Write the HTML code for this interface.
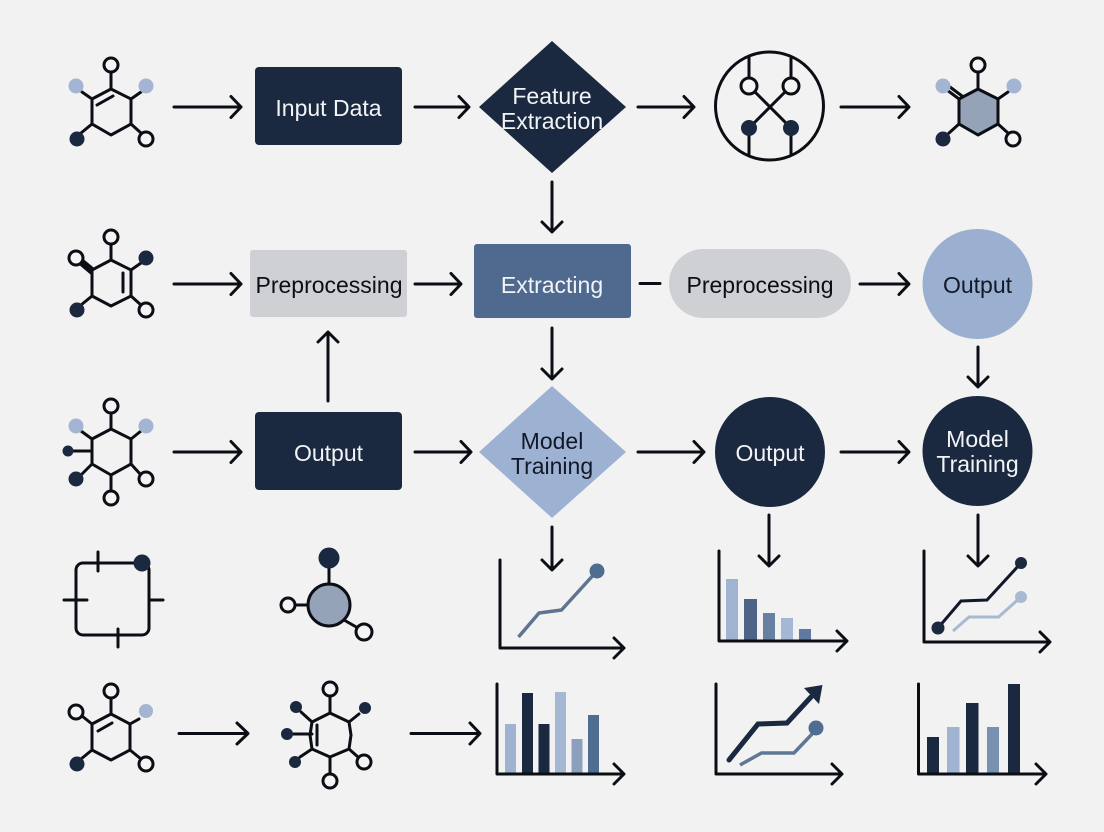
<!DOCTYPE html>
<html><head><meta charset="utf-8"><style>
html,body{margin:0;padding:0;background:#f2f2f3}
svg{display:block}
text{font-family:"Liberation Sans",sans-serif;font-size:23px;text-anchor:middle;dominant-baseline:central}
.l{fill:none;stroke:#0b0e14;stroke-width:3;stroke-linecap:round;stroke-linejoin:round}
.o{fill:#f4f4f5;stroke:#0b0e14;stroke-width:3}
.n{fill:#1a2840}.b{fill:#a3b5d3}
</style></head><body>
<svg width="1104" height="832" viewBox="0 0 1104 832" xmlns="http://www.w3.org/2000/svg">
<rect width="1104" height="832" fill="#f2f2f3"/>

<!-- Row 1 -->
<path class="l" d="M111 72V89M92 99L82 92M131 99L141 92M92 124L81 133M131 124L141 133M92 99L111 89L131 99V124L111 135L92 124ZM97 105L113 96"/>
<circle class="o" cx="111" cy="65" r="7"/><circle class="b" cx="76" cy="86" r="7.5"/><circle class="b" cx="146" cy="86" r="7.5"/><circle class="n" cx="77" cy="139" r="7.5"/><circle class="o" cx="146" cy="139" r="7"/>
<path class="l" d="M174 107H241M231 96.500L241 107L231 117.500"/>
<rect x="255" y="67" width="147" height="78" rx="4" fill="#1a2840"/>
<text x="328.500" y="108" fill="#f3f4f6">Input Data</text>
<path class="l" d="M415 107H468M459 96.500L469 107L459 117.500"/>
<polygon points="552,41 626,107 552,173 479,107" fill="#1a2840"/>
<text x="552" y="96" fill="#f3f4f6">Feature</text><text x="552" y="121" fill="#f3f4f6">Extraction</text>
<path class="l" d="M638 107H693M684 96.500L694 107L684 117.500"/>
<circle class="l" cx="769.500" cy="106" r="54"/>
<path class="l" d="M749 57V78M791 57V78M755 92L791 128M785 92L749 128M749 128V154M791 128V154"/>
<circle class="o" cx="749" cy="86" r="8"/><circle class="o" cx="791" cy="86" r="8"/><circle class="n" cx="749" cy="128" r="8"/><circle class="n" cx="791" cy="128" r="8"/>
<path class="l" d="M841 107H908M899 96.500L909 107L899 117.500"/>
<path class="l" d="M978 72V89M998 99L1008 92M959 124L949 133M998 124L1008 133M947 90L959 99M950 87L962 96"/>
<polygon points="978,89 998,99 998,124 978,135 959,124 959,99" fill="#94a3b8" stroke="#0b0e14" stroke-width="3" stroke-linejoin="round"/>
<circle class="o" cx="978" cy="65" r="7"/><circle class="b" cx="943" cy="86" r="7.5"/><circle class="b" cx="1014" cy="86" r="7.5"/><circle class="n" cx="943" cy="139" r="7.5"/><circle class="o" cx="1013" cy="139" r="7"/>
<path class="l" d="M552 182V231M542 222L552 232L562 222"/>

<!-- Row 2 -->
<path class="l" d="M111 244V260M92 270L82 263M131 270L141 263M92 296L81 305M131 296L141 305M92 270L111 260L131 270V296L111 306L92 296ZM123 273V292"/>
<path class="l" d="M78 262L91 273M81 259L92 268"/>
<circle class="o" cx="111" cy="237" r="7"/><circle class="o" cx="76" cy="258" r="7"/><circle class="n" cx="146" cy="258" r="7.5"/><circle class="n" cx="77" cy="310" r="7.5"/><circle class="o" cx="146" cy="310" r="7"/>
<path class="l" d="M174 284H241M231 273.500L241 284L231 294.500"/>
<rect x="250" y="250" width="157" height="67" rx="3" fill="#cfd0d4"/>
<text x="329" y="285" fill="#0b0e14">Preprocessing</text>
<path class="l" d="M415 284H460M451 273.500L461 284L451 294.500"/>
<rect x="474" y="244" width="157" height="74" rx="3" fill="#4f6a8e"/>
<text x="552" y="285" fill="#f3f4f6">Extracting</text>
<path class="l" d="M640 283.500H660"/>
<rect x="669" y="249" width="182" height="69" rx="34.500" fill="#cfd0d4"/>
<text x="760" y="285" fill="#0b0e14">Preprocessing</text>
<path class="l" d="M860 284H908M899 273.500L909 284L899 294.500"/>
<circle cx="977.500" cy="284" r="55" fill="#9bb0d0"/>
<text x="977.500" y="285" fill="#111827">Output</text>
<path class="l" d="M552 328V378M542 369L552 379L562 369"/>
<path class="l" d="M978 347V386M968 377L978 387L988 377"/>
<path class="l" d="M328 401V333M318 342L328 332L338 342"/>

<!-- Row 3 -->
<path class="l" d="M111 413V429M81 431L92 439M141 431L131 439M73 451H92M81 475L92 464M141 475L131 464M111 475V491M92 439L111 429L131 439V464L111 475L92 464Z"/>
<circle class="o" cx="111" cy="406" r="7"/><circle class="o" cx="111" cy="498" r="7"/><circle class="b" cx="76" cy="426" r="7.5"/><circle class="b" cx="146" cy="426" r="7.5"/><circle class="n" cx="68" cy="451" r="5.500"/><circle class="n" cx="76" cy="479" r="7.5"/><circle class="o" cx="146" cy="479" r="7"/>
<path class="l" d="M174 452H241M231 441.500L241 452L231 462.500"/>
<rect x="255" y="412" width="147" height="78" rx="4" fill="#1a2840"/>
<text x="328.500" y="453" fill="#f3f4f6">Output</text>
<path class="l" d="M415 452H470M461 441.500L471 452L461 462.500"/>
<polygon points="552,386 626,452 552,518 479,452" fill="#9db2d2"/>
<text x="552" y="441" fill="#111827">Model</text><text x="552" y="466" fill="#111827">Training</text>
<path class="l" d="M638 452H703M694 441.500L704 452L694 462.500"/>
<circle cx="770" cy="452" r="55" fill="#1a2840"/>
<text x="770" y="453" fill="#f3f4f6">Output</text>
<path class="l" d="M841 452H908M899 441.500L909 452L899 462.500"/>
<circle cx="977.500" cy="451" r="55" fill="#1a2840"/>
<text x="977.500" y="439" fill="#f3f4f6">Model</text><text x="977.500" y="464" fill="#f3f4f6">Training</text>

<!-- Row 4 -->
<rect class="l" x="76" y="563" width="73" height="72" rx="7"/>
<path class="l" d="M98 552V571M64 600H87M150 600H163M118 629V647"/>
<circle class="n" cx="142" cy="563" r="8.500"/>
<path class="l" d="M329 568V584M295 605H308M344 620L358 628"/>
<circle cx="329" cy="605" r="21" fill="#94a3b8" stroke="#0b0e14" stroke-width="3"/>
<circle class="n" cx="329" cy="558" r="10.500"/><circle class="o" cx="288" cy="605" r="7"/><circle class="o" cx="364" cy="632" r="8"/>
<path class="l" d="M552 527V569M542 560L552 570L562 560"/>
<path class="l" d="M769 515V565M759 556L769 566L779 556"/>
<path class="l" d="M978 515V565M968 556L978 566L988 556"/>

<path class="l" d="M500 560V648H623M614 638L624 648L614 658"/>
<polyline points="518.500,637 539,613 561.500,610 597,571" fill="none" stroke="#5f7490" stroke-width="3.500" stroke-linejoin="round"/>
<circle cx="597" cy="571" r="7.500" fill="#4f6c91"/>

<rect x="726" y="579" width="12" height="62" fill="#a0b3d0"/>
<rect x="744" y="599" width="13" height="42" fill="#4d6485"/>
<rect x="763" y="613" width="12" height="28" fill="#66809f"/>
<rect x="781" y="618" width="12" height="23" fill="#a4b8d4"/>
<rect x="799" y="629" width="12" height="12" fill="#5f7a9e"/>
<path class="l" d="M719 551V641H846M837 631L847 641L837 651"/>

<path class="l" d="M924 551V642H1049M1040 632L1050 642L1040 652"/>
<polyline points="953,631 969,617 998.500,617 1021,597" fill="none" stroke="#a9b9d2" stroke-width="3"/>
<circle cx="1021" cy="597" r="6" fill="#a9b9d2"/>
<polyline points="938,628 961,601 987,600 1021,563" fill="none" stroke="#10182a" stroke-width="3"/>
<circle class="n" cx="938" cy="628" r="6.500"/><circle class="n" cx="1021" cy="563" r="6"/>

<!-- Row 5 -->
<path class="l" d="M111 698V714M82 716L92 724M139 719L130 724M92 750L81 759M130 750L141 759M92 724L111 714L130 724V750L111 760L92 750ZM98 731L112 723"/>
<circle class="o" cx="111" cy="691" r="7"/><circle class="o" cx="76" cy="712" r="7"/><circle class="b" cx="146" cy="711" r="7"/><circle class="n" cx="77" cy="764" r="7.5"/><circle class="o" cx="146" cy="764" r="7"/>
<path class="l" d="M179 733.500H247M237 723L248 733.500L237 744"/>
<path class="l" d="M330 696V713M301 712L312 722M359 714L349 722M292 734H312M300 757L312 749M358 757L349 749M330 757V774M312 722L330 713L349 722L351 735L349 749L330 757L312 749L310 735ZM317 725V745"/>
<circle class="o" cx="330" cy="689" r="7"/><circle class="o" cx="330" cy="781" r="7"/><circle class="n" cx="296" cy="707" r="6"/><circle class="n" cx="365" cy="708" r="6"/><circle class="n" cx="287" cy="734" r="6"/><circle class="n" cx="295" cy="762" r="6"/><circle class="o" cx="364" cy="762" r="7"/>
<path class="l" d="M411 733.500H479M470 723L480 733.500L470 744"/>

<rect x="505" y="724" width="11" height="50" fill="#9fb2cf"/>
<rect x="522" y="693" width="11" height="81" fill="#1a2840"/>
<rect x="538.500" y="724" width="11" height="50" fill="#1a2840"/>
<rect x="555" y="692" width="11" height="82" fill="#a4b8d4"/>
<rect x="571.500" y="739" width="11" height="35" fill="#8ca0bc"/>
<rect x="588" y="715" width="11" height="59" fill="#4f6c91"/>
<path class="l" d="M497 684V774H623M614 764L624 774L614 784"/>

<path class="l" d="M716 684V774H841M832 764L842 774L832 784"/>
<polyline points="740,765 761.500,753 794,753 813,733" fill="none" stroke="#5f7793" stroke-width="3.500"/>
<circle cx="816" cy="728" r="7.500" fill="#4f6c91"/>
<polyline points="729,760 758,724 787,723 811,697" fill="none" stroke="#1a2840" stroke-width="5" stroke-linecap="round"/>
<polygon points="822.500,685 804,688 819,704" fill="#1a2840"/>

<rect x="927" y="737" width="12" height="37" fill="#1a2840"/>
<rect x="947" y="727" width="12.500" height="47" fill="#a0b3d0"/>
<rect x="966" y="703" width="12.500" height="71" fill="#1a2840"/>
<rect x="987" y="727" width="12" height="47" fill="#7a90b0"/>
<rect x="1008" y="684" width="12" height="90" fill="#1a2840"/>
<path class="l" d="M918.500 684V774H1045M1036 764L1046 774L1036 784"/>
</svg>
</body></html>
